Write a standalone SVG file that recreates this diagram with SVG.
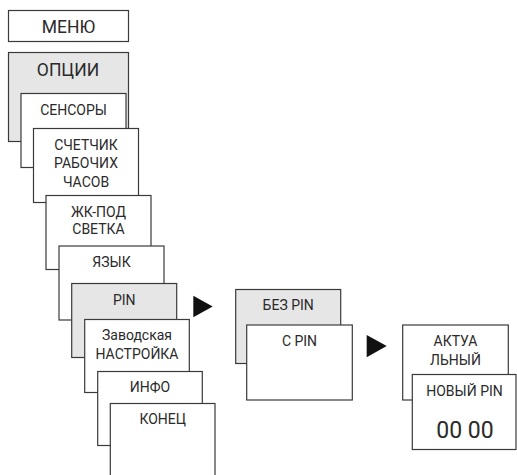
<svg xmlns="http://www.w3.org/2000/svg" width="517" height="475" viewBox="0 0 517 475">
<style>
rect{stroke:#3a3a3a;stroke-width:1.2;fill:#fff}
rect.g{fill:#e6e6e6}
text{font-family:Roboto,"Liberation Sans",sans-serif;fill:#2a2a2a;text-anchor:middle;font-size:14px}
text.l{font-size:17.5px}
text.b{font-size:23px}
.arrow{fill:#111;stroke:none}
</style>
<g id="menu"><rect x="8.5" y="10.5" width="120" height="31"/><text class="l" x="68.5" y="33.3">МЕНЮ</text></g>
<g id="options"><rect class="g" x="8.5" y="52.5" width="120" height="89"/><text class="l" x="68" y="76">ОПЦИИ</text></g>
<g id="sensors"><rect x="21" y="93.5" width="105" height="74"/><text x="73.5" y="115">СЕНСОРЫ</text></g>
<g id="counter"><rect x="33.5" y="128.5" width="105" height="74"/><text x="86" y="150">СЧЕТЧИК</text><text x="86" y="168.3">РАБОЧИХ</text><text x="86" y="186.7">ЧАСОВ</text></g>
<g id="backlight"><rect x="46" y="195.5" width="105" height="74"/><text x="98.5" y="216.7" font-size="15">ЖК-ПОД</text><text x="98.5" y="234.3" font-size="15">СВЕТКА</text></g>
<g id="language"><rect x="59" y="246" width="105" height="74"/><text x="111.5" y="266.7" font-size="15">ЯЗЫК</text></g>
<g id="pin"><rect class="g" x="71.7" y="283.5" width="105" height="74"/><text x="124.2" y="305" font-size="15">PIN</text></g>
<g id="factory"><rect x="84.7" y="319.5" width="104.6" height="73"/><text x="137" y="340" font-size="15">Заводская</text><text x="137" y="359.3" font-size="15">НАСТРОЙКА</text></g>
<g id="info"><rect x="97.7" y="371.5" width="104.6" height="74"/><text x="150" y="392.3" font-size="15">ИНФО</text></g>
<g id="end"><rect x="110.3" y="403.5" width="104.7" height="90"/><text x="162.7" y="424.3" font-size="15">КОНЕЦ</text></g>
<g id="nopin"><rect class="g" x="235.7" y="289.5" width="105" height="74"/><text x="288.2" y="310" font-size="15">БЕЗ PIN</text></g>
<g id="withpin"><rect x="246.7" y="325" width="105.6" height="75"/><text x="299.5" y="346" font-size="15">С PIN</text></g>
<g id="current"><rect x="402.7" y="325" width="105.6" height="75"/><text x="455.5" y="346" font-size="15">АКТУА</text><text x="455.5" y="365" font-size="15">ЛЬНЫЙ</text></g>
<g id="newpin"><rect x="412.3" y="374.5" width="103.7" height="75"/><text x="464.5" y="396" font-size="15">НОВЫЙ PIN</text><text class="b" x="465" y="438.3">00 00</text></g>
<g id="connectors">
<polygon class="arrow" points="193.3,295.7 212.7,306.5 193.3,317.3"/>
<polygon class="arrow" points="366.7,335 386.7,346 366.7,357.3"/>
</g>
</svg>
